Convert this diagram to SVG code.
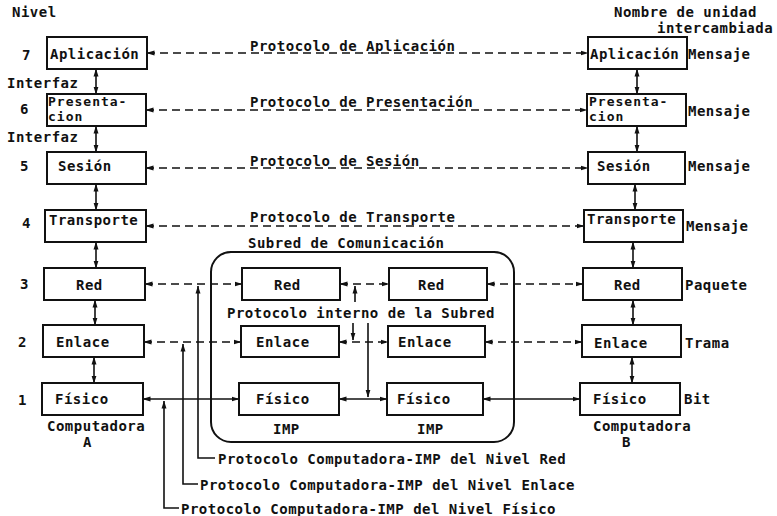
<svg xmlns="http://www.w3.org/2000/svg" width="777" height="516" viewBox="0 0 777 516">
<style>
text{font-family:"DejaVu Sans Mono","Liberation Mono",monospace;font-size:14px;font-weight:bold;letter-spacing:0.5px;fill:#111}
.sm{font-size:13px;letter-spacing:1px}
.box{fill:#fff;stroke:#111;stroke-width:2}
.d{fill:none;stroke:#111;stroke-width:1.6;stroke-dasharray:8 5}
.s{fill:none;stroke:#111;stroke-width:1.6}
.a{marker-start:url(#ah);marker-end:url(#ah)}
.e{marker-end:url(#ah)}
</style>
<defs>
<marker id="ah" viewBox="0 0 8 6" refX="7.5" refY="3" markerWidth="8" markerHeight="6" markerUnits="userSpaceOnUse" orient="auto-start-reverse"><path d="M0,0.5 L8,3 L0,5.5 z" fill="#111"/></marker>
</defs>
<rect width="777" height="516" fill="#fff"/>

<g id="headers">
<text x="12" y="17">Nivel</text>
<text x="614" y="17">Nombre de unidad</text>
<text x="657" y="33">intercambiada</text>
<text x="7" y="88">Interfaz</text>
<text x="7" y="142">Interfaz</text>
<text x="22" y="60">7</text>
<text x="20" y="114">6</text>
<text x="20" y="171">5</text>
<text x="22" y="228">4</text>
<text x="20" y="289">3</text>
<text x="18" y="347">2</text>
<text x="18" y="405">1</text>
<text x="688" y="59">Mensaje</text>
<text x="688" y="116">Mensaje</text>
<text x="688" y="171">Mensaje</text>
<text x="686" y="231">Mensaje</text>
<text x="685" y="290">Paquete</text>
<text x="685" y="348">Trama</text>
<text x="684" y="404">Bit</text>
</g>

<g id="subred">
<rect x="211" y="252" width="303" height="190" rx="20" fill="none" stroke="#111" stroke-width="2"/>
<text x="248" y="248">Subred de Comunicación</text>
<text x="227" y="318">Protocolo interno de la Subred</text>
</g>

<g id="connectors">
<path class="s a" d="M96,69 V94"/>
<path class="s a" d="M96,126 V152"/>
<path class="s a" d="M96,184 V210"/>
<path class="s a" d="M96,242 V268"/>
<path class="s a" d="M95,300 V325"/>
<path class="s a" d="M94,357 V383"/>
<path class="s a" d="M637,69 V94"/>
<path class="s a" d="M637,126 V152"/>
<path class="s a" d="M635,184 V210"/>
<path class="s a" d="M633,242 V268"/>
<path class="s a" d="M633,300 V325"/>
<path class="s a" d="M632,357 V383"/>
<path class="d a" d="M147,53 H588"/>
<path class="d a" d="M146,110 H587"/>
<path class="d a" d="M146,168 H588"/>
<path class="d a" d="M146,226 H584"/>
<path class="d a" d="M145,284 H242"/>
<path class="d a" d="M340,284 H389"/>
<path class="d a" d="M487,284 H583"/>
<path class="d a" d="M144,342 H241"/>
<path class="d a" d="M339,342 H388"/>
<path class="d a" d="M485,342 H582"/>
<path class="s a" d="M143,399 H239"/>
<path class="s a" d="M339,399 H387"/>
<path class="s a" d="M483,399 H580"/>
<path class="s e" d="M355,302 V286"/>
<path class="s e" d="M353,323 V340"/>
<path class="s e" d="M368,323 V397"/>
<path class="s e" d="M215,458 H198 V286"/>
<path class="s e" d="M198,484 H183 V344"/>
<path class="s e" d="M179,508 H164 V401"/>
</g>

<g id="protocol-labels">
<text x="250" y="51">Protocolo de Aplicación</text>
<text x="250" y="107">Protocolo de Presentación</text>
<text x="250" y="166">Protocolo de Sesión</text>
<text x="250" y="222">Protocolo de Transporte</text>
<text x="218" y="464">Protocolo Computadora-IMP del Nivel Red</text>
<text x="200" y="490">Protocolo Computadora-IMP del Nivel Enlace</text>
<text x="181" y="514">Protocolo Computadora-IMP del Nivel Físico</text>
</g>

<g id="hostA">
<g id="a7"><rect class="box" x="47" y="37" width="100" height="32"/><text x="50" y="59">Aplicación</text></g>
<g id="a6"><rect class="box" x="47" y="94" width="99" height="32"/><text class="sm" x="48" y="106">Presenta-</text><text class="sm" x="48" y="121">cion</text></g>
<g id="a5"><rect class="box" x="47" y="152" width="99" height="32"/><text x="58" y="171">Sesión</text></g>
<g id="a4"><rect class="box" x="45" y="210" width="101" height="32"/><text x="49" y="225">Transporte</text></g>
<g id="a3"><rect class="box" x="44" y="268" width="101" height="32"/><text x="76" y="290">Red</text></g>
<g id="a2"><rect class="box" x="43" y="325" width="101" height="32"/><text x="56" y="347">Enlace</text></g>
<g id="a1"><rect class="box" x="42" y="383" width="101" height="32"/><text x="55" y="404">Físico</text></g>
<text x="47" y="431">Computadora</text>
<text x="83" y="447">A</text>
</g>

<g id="hostB">
<g id="b7"><rect class="box" x="588" y="37" width="99" height="32"/><text x="590" y="59">Aplicación</text></g>
<g id="b6"><rect class="box" x="587" y="94" width="99" height="32"/><text class="sm" x="589" y="106">Presenta-</text><text class="sm" x="589" y="121">cion</text></g>
<g id="b5"><rect class="box" x="588" y="152" width="97" height="32"/><text x="597" y="171">Sesión</text></g>
<g id="b4"><rect class="box" x="584" y="210" width="99" height="32"/><text x="587" y="224">Transporte</text></g>
<g id="b3"><rect class="box" x="583" y="268" width="99" height="32"/><text x="614" y="290">Red</text></g>
<g id="b2"><rect class="box" x="582" y="325" width="99" height="32"/><text x="594" y="348">Enlace</text></g>
<g id="b1"><rect class="box" x="580" y="383" width="100" height="32"/><text x="593" y="404">Físico</text></g>
<text x="593" y="431">Computadora</text>
<text x="622" y="447">B</text>
</g>

<g id="imp1">
<g id="i1r"><rect class="box" x="242" y="268" width="98" height="32"/><text x="274" y="290">Red</text></g>
<g id="i1e"><rect class="box" x="241" y="326" width="98" height="31"/><text x="256" y="347">Enlace</text></g>
<g id="i1f"><rect class="box" x="239" y="383" width="100" height="32"/><text x="256" y="404">Físico</text></g>
<text x="273" y="434">IMP</text>
</g>

<g id="imp2">
<g id="i2r"><rect class="box" x="389" y="268" width="98" height="32"/><text x="418" y="290">Red</text></g>
<g id="i2e"><rect class="box" x="388" y="326" width="97" height="31"/><text x="398" y="347">Enlace</text></g>
<g id="i2f"><rect class="box" x="387" y="383" width="96" height="32"/><text x="397" y="404">Físico</text></g>
<text x="417" y="434">IMP</text>
</g>
</svg>
